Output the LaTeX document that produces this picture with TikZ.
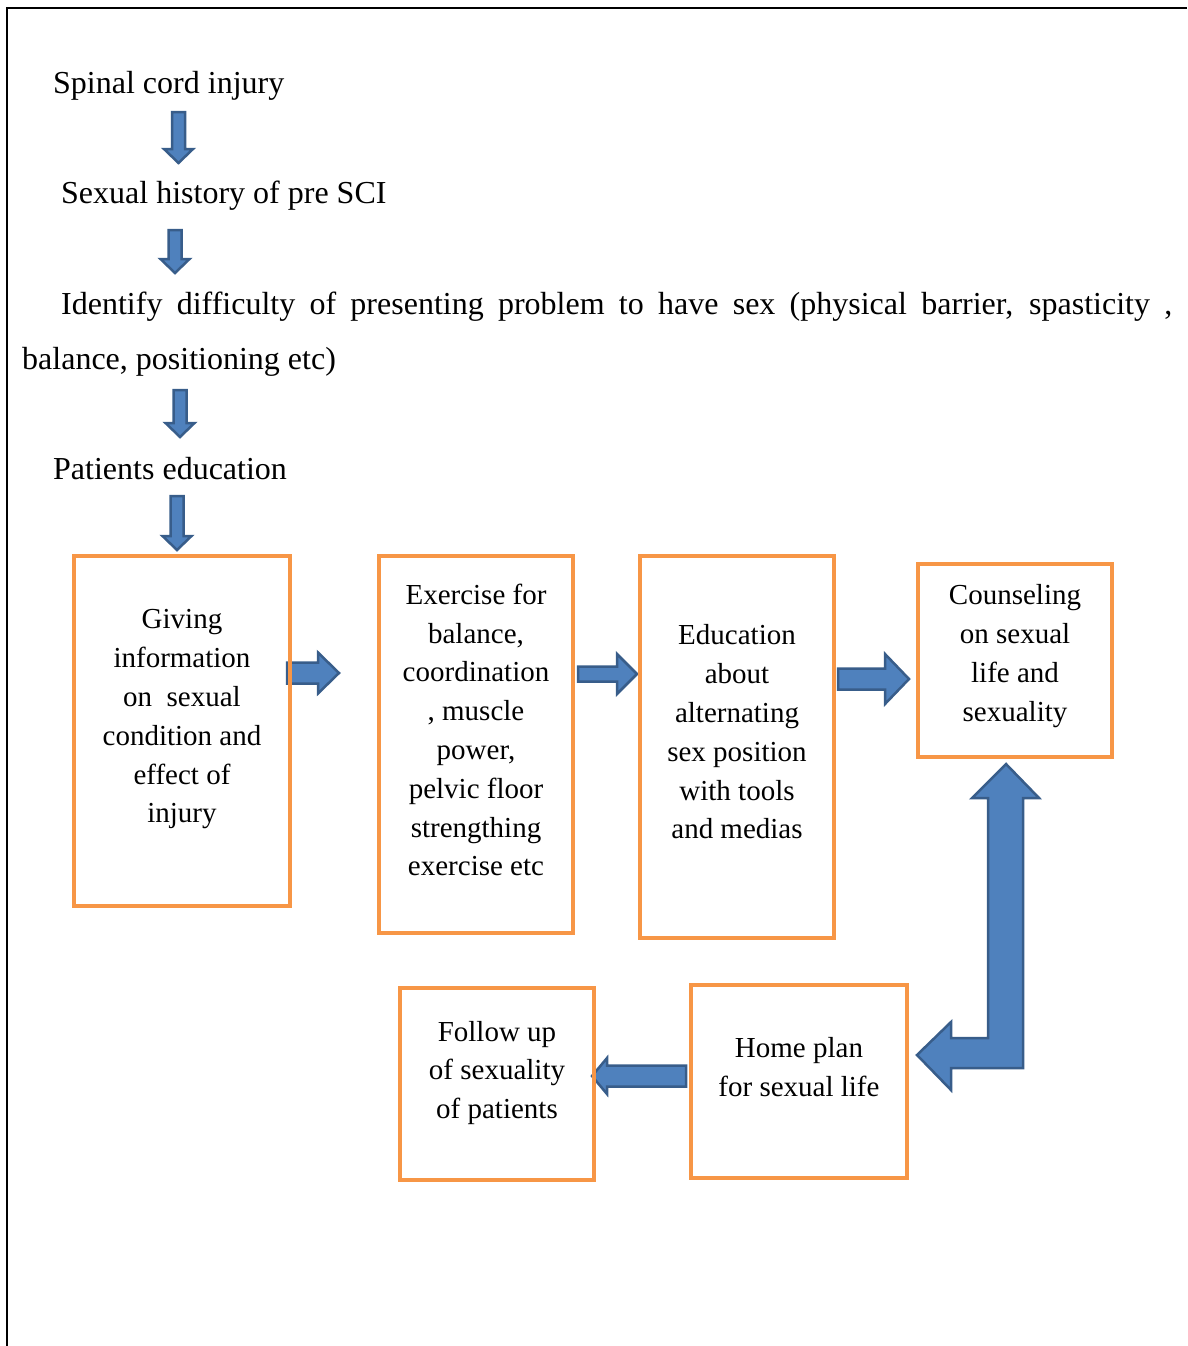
\documentclass[tikz,border=0pt]{standalone}
\usepackage{fontspec}
\setmainfont{Liberation Serif}
\definecolor{boxorange}{HTML}{F79646}
\definecolor{arrowfill}{HTML}{4F81BD}
\definecolor{arrowedge}{HTML}{385D8A}
\tikzset{
  stepbox/.style={draw=boxorange, line width=4pt, rectangle, inner sep=0pt},
  boxtext/.style={align=center, inner sep=0pt, font=\fontsize{29}{38.8}\selectfont},
  toptext/.style={anchor=base west, inner sep=0pt, font=\fontsize{32}{40}\selectfont},
  blockarrow/.style={fill=arrowfill, draw=arrowedge, line width=2.5pt, line join=miter},
}
% down arrow: center x, top y, tip y
\newcommand\dnarrow[3]{\draw[blockarrow] (#1-6.5,#2) -- (#1+6.5,#2) -- (#1+6.5,#3-14) -- (#1+14.5,#3-14) -- (#1,#3) -- (#1-14.5,#3-14) -- (#1-6.5,#3-14) -- cycle;}
% horizontal arrow: shaft end x, head base x, tip x, center y, shaft half, head half
\newcommand\hzarrow[6]{\draw[blockarrow] (#1,#4-#5) -- (#2,#4-#5) -- (#2,#4-#6) -- (#3,#4) -- (#2,#4+#6) -- (#2,#4+#5) -- (#1,#4+#5) -- cycle;}
\begin{document}
\begin{tikzpicture}[x=1pt,y=-1pt]
\useasboundingbox (0,0) rectangle (1187,1346);
% frame
\draw[line width=2pt] (7,1346) -- (7,8) -- (1187,8);

% top texts
\node[toptext] (t1) at (53,93) {Spinal cord injury};
\node[toptext] (t2) at (61,203) {Sexual history of pre SCI};
\node[toptext] (t3) at (61,314) {\makebox[1111pt][s]{Identify difficulty of presenting problem to have sex (physical barrier, spasticity ,}};
\node[toptext] (t3b) at (22,369) {balance, positioning etc)};
\node[toptext] (t4) at (53,479) {Patients education};

% down arrows
\dnarrow{178.5}{112}{163}
\dnarrow{175}{230}{273}
\dnarrow{180}{390}{437}
\dnarrow{177}{496}{550}

% horizontal arrows
\hzarrow{287}{318}{339}{673}{10.5}{20.5}
\hzarrow{578}{617}{637}{674}{7.5}{20}
\hzarrow{838}{885}{909}{679}{10.5}{25}
\hzarrow{686}{607}{592}{1076}{10.5}{18}

% bent double arrow
\draw[blockarrow] (1006,764) -- (1039,798) -- (1023,798) -- (1023,1068) -- (951,1068) -- (951,1090) -- (917,1055) -- (951,1022) -- (951,1038) -- (988,1038) -- (988,798) -- (972,798) -- cycle;

% boxes
\node[stepbox, minimum width=216pt, minimum height=350pt] (b1) at (182,731) {};
\node[stepbox, minimum width=194pt, minimum height=377pt] (b2) at (476,744.5) {};
\node[stepbox, minimum width=194pt, minimum height=382pt] (b3) at (737,747) {};
\node[stepbox, minimum width=194pt, minimum height=193pt] (b4) at (1015,660.5) {};
\node[stepbox, minimum width=194pt, minimum height=192pt] (b5) at (497,1084) {};
\node[stepbox, minimum width=216pt, minimum height=193pt] (b6) at (799,1081.5) {};

% box texts
\node[boxtext] (l1) at (182,719.5) {Giving\\information\\on\ \ sexual\\condition and\\effect of\\injury};
\node[boxtext] (l2) at (476,730) {Exercise for\\balance,\\coordination\\, muscle\\power,\\pelvic floor\\strengthing\\exercise etc};
\node[boxtext] (l3) at (737,732) {Education\\about\\alternating\\sex position\\with tools\\and medias};
\node[boxtext] (l4) at (1015,656) {Counseling\\on sexual\\life and\\sexuality};
\node[boxtext] (l5) at (497,1073) {Follow up\\of sexuality\\of patients};
\node[boxtext] (l6) at (799,1067) {Home plan\\for sexual life};
\end{tikzpicture}
\end{document}
